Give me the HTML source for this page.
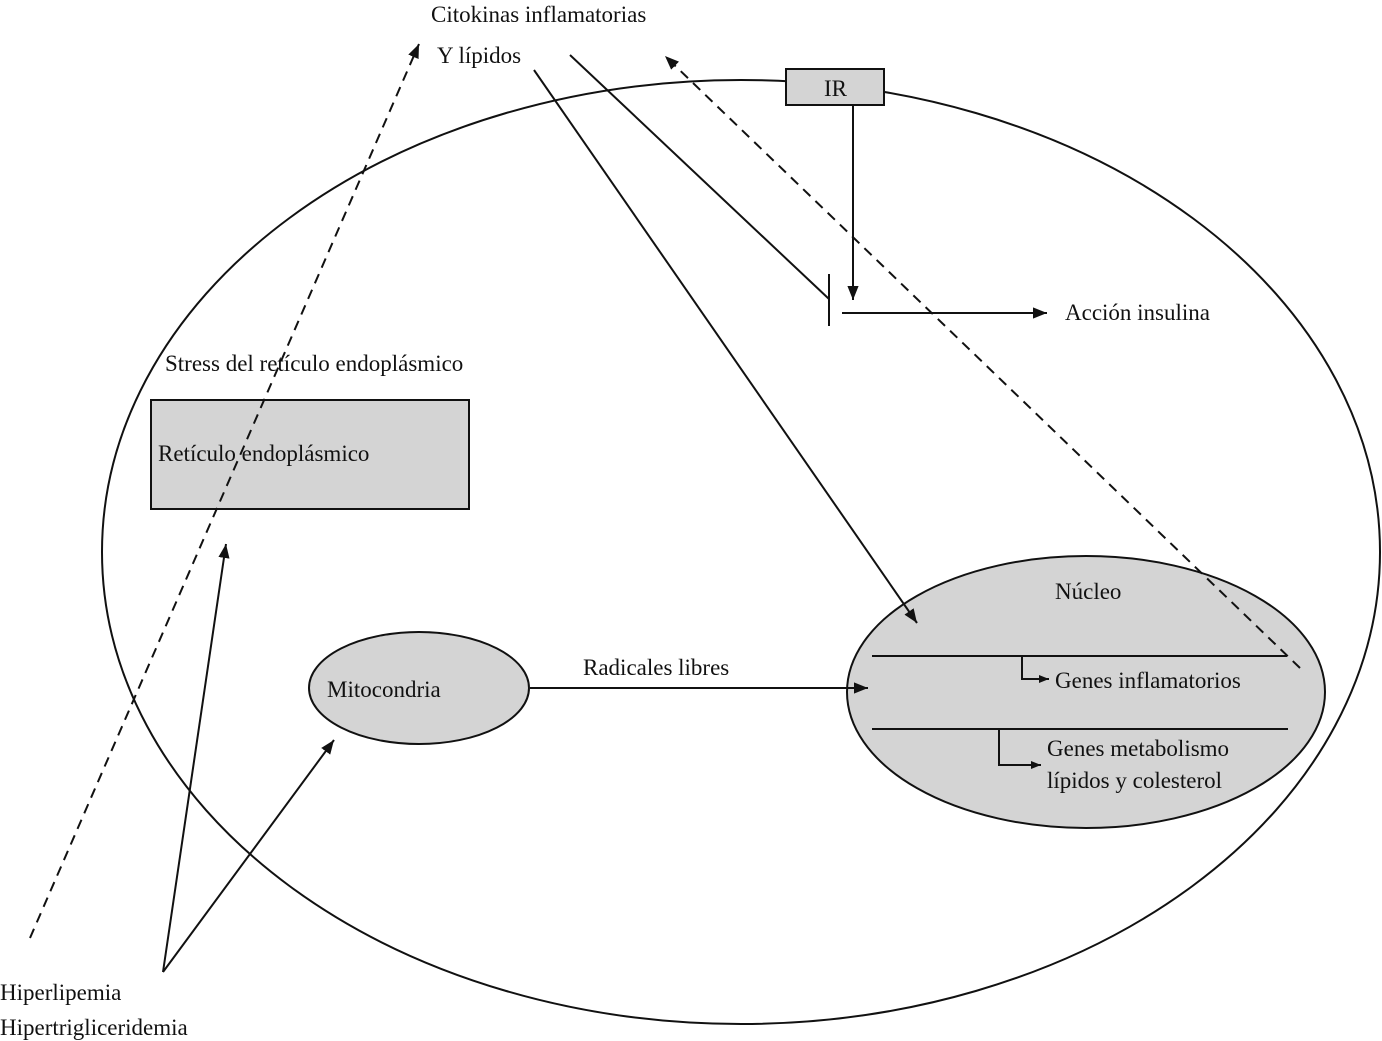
<!DOCTYPE html>
<html><head><meta charset="utf-8"><style>
html,body{margin:0;padding:0;background:#fff;}
svg{display:block;}
text{font-family:"Liberation Serif",serif;font-size:23px;fill:#111;}
</style></head><body>
<svg width="1382" height="1041" viewBox="0 0 1382 1041" xmlns="http://www.w3.org/2000/svg">
<defs>
<marker id="a" viewBox="0 0 10 10" refX="10" refY="5" markerWidth="10" markerHeight="10" markerUnits="userSpaceOnUse" orient="auto"><path d="M0,1 L10,5 L0,9 z" fill="#111"/></marker>
<marker id="b" viewBox="0 0 10 10" refX="10" refY="5" markerWidth="14" markerHeight="14" markerUnits="userSpaceOnUse" orient="auto"><path d="M0,1 L10,5 L0,9 z" fill="#111"/></marker>
</defs>
<g stroke="#111" stroke-width="2" fill="none">
<ellipse cx="741" cy="552" rx="639" ry="472"/>
<rect x="786" y="69" width="98" height="36" fill="#d4d4d4"/>
<rect x="151" y="400" width="318" height="109" fill="#d4d4d4"/>
<ellipse cx="419" cy="688" rx="110" ry="56" fill="#d4d4d4"/>
<ellipse cx="1086" cy="692" rx="239" ry="136" fill="#d4d4d4"/>
<line x1="853" y1="105" x2="853" y2="300" marker-end="url(#b)"/>
<line x1="829" y1="274" x2="829" y2="326"/>
<line x1="570" y1="55" x2="829" y2="299"/>
<line x1="842" y1="313" x2="1047" y2="313" marker-end="url(#b)"/>
<line x1="534" y1="70" x2="917" y2="623" marker-end="url(#b)"/>
<line x1="1300" y1="668" x2="665" y2="56" stroke-dasharray="10,7" marker-end="url(#b)"/>
<line x1="30" y1="938" x2="419" y2="44" stroke-dasharray="10,7" marker-end="url(#b)"/>
<line x1="530" y1="688" x2="868" y2="688" marker-end="url(#b)"/>
<line x1="872" y1="656" x2="1287" y2="656"/>
<line x1="872" y1="729" x2="1288" y2="729"/>
<polyline points="1022,656 1022,679 1049,679" marker-end="url(#a)"/>
<polyline points="999,729 999,765 1041,765" marker-end="url(#a)"/>
<line x1="163" y1="972" x2="226" y2="544" marker-end="url(#b)"/>
<line x1="163" y1="972" x2="334" y2="740" marker-end="url(#b)"/>
</g>
<text x="431" y="22">Citokinas inflamatorias</text>
<text x="437" y="63">Y lípidos</text>
<text x="824" y="96">IR</text>
<text x="1065" y="320">Acción insulina</text>
<text x="165" y="371">Stress del retículo endoplásmico</text>
<text x="158" y="461">Retículo endoplásmico</text>
<text x="327" y="697">Mitocondria</text>
<text x="583" y="675">Radicales libres</text>
<text x="1055" y="599">Núcleo</text>
<text x="1055" y="688">Genes inflamatorios</text>
<text x="1047" y="756">Genes metabolismo</text>
<text x="1047" y="788">lípidos y colesterol</text>
<text x="0" y="1000">Hiperlipemia</text>
<text x="0" y="1035">Hipertrigliceridemia</text>
</svg>
</body></html>
